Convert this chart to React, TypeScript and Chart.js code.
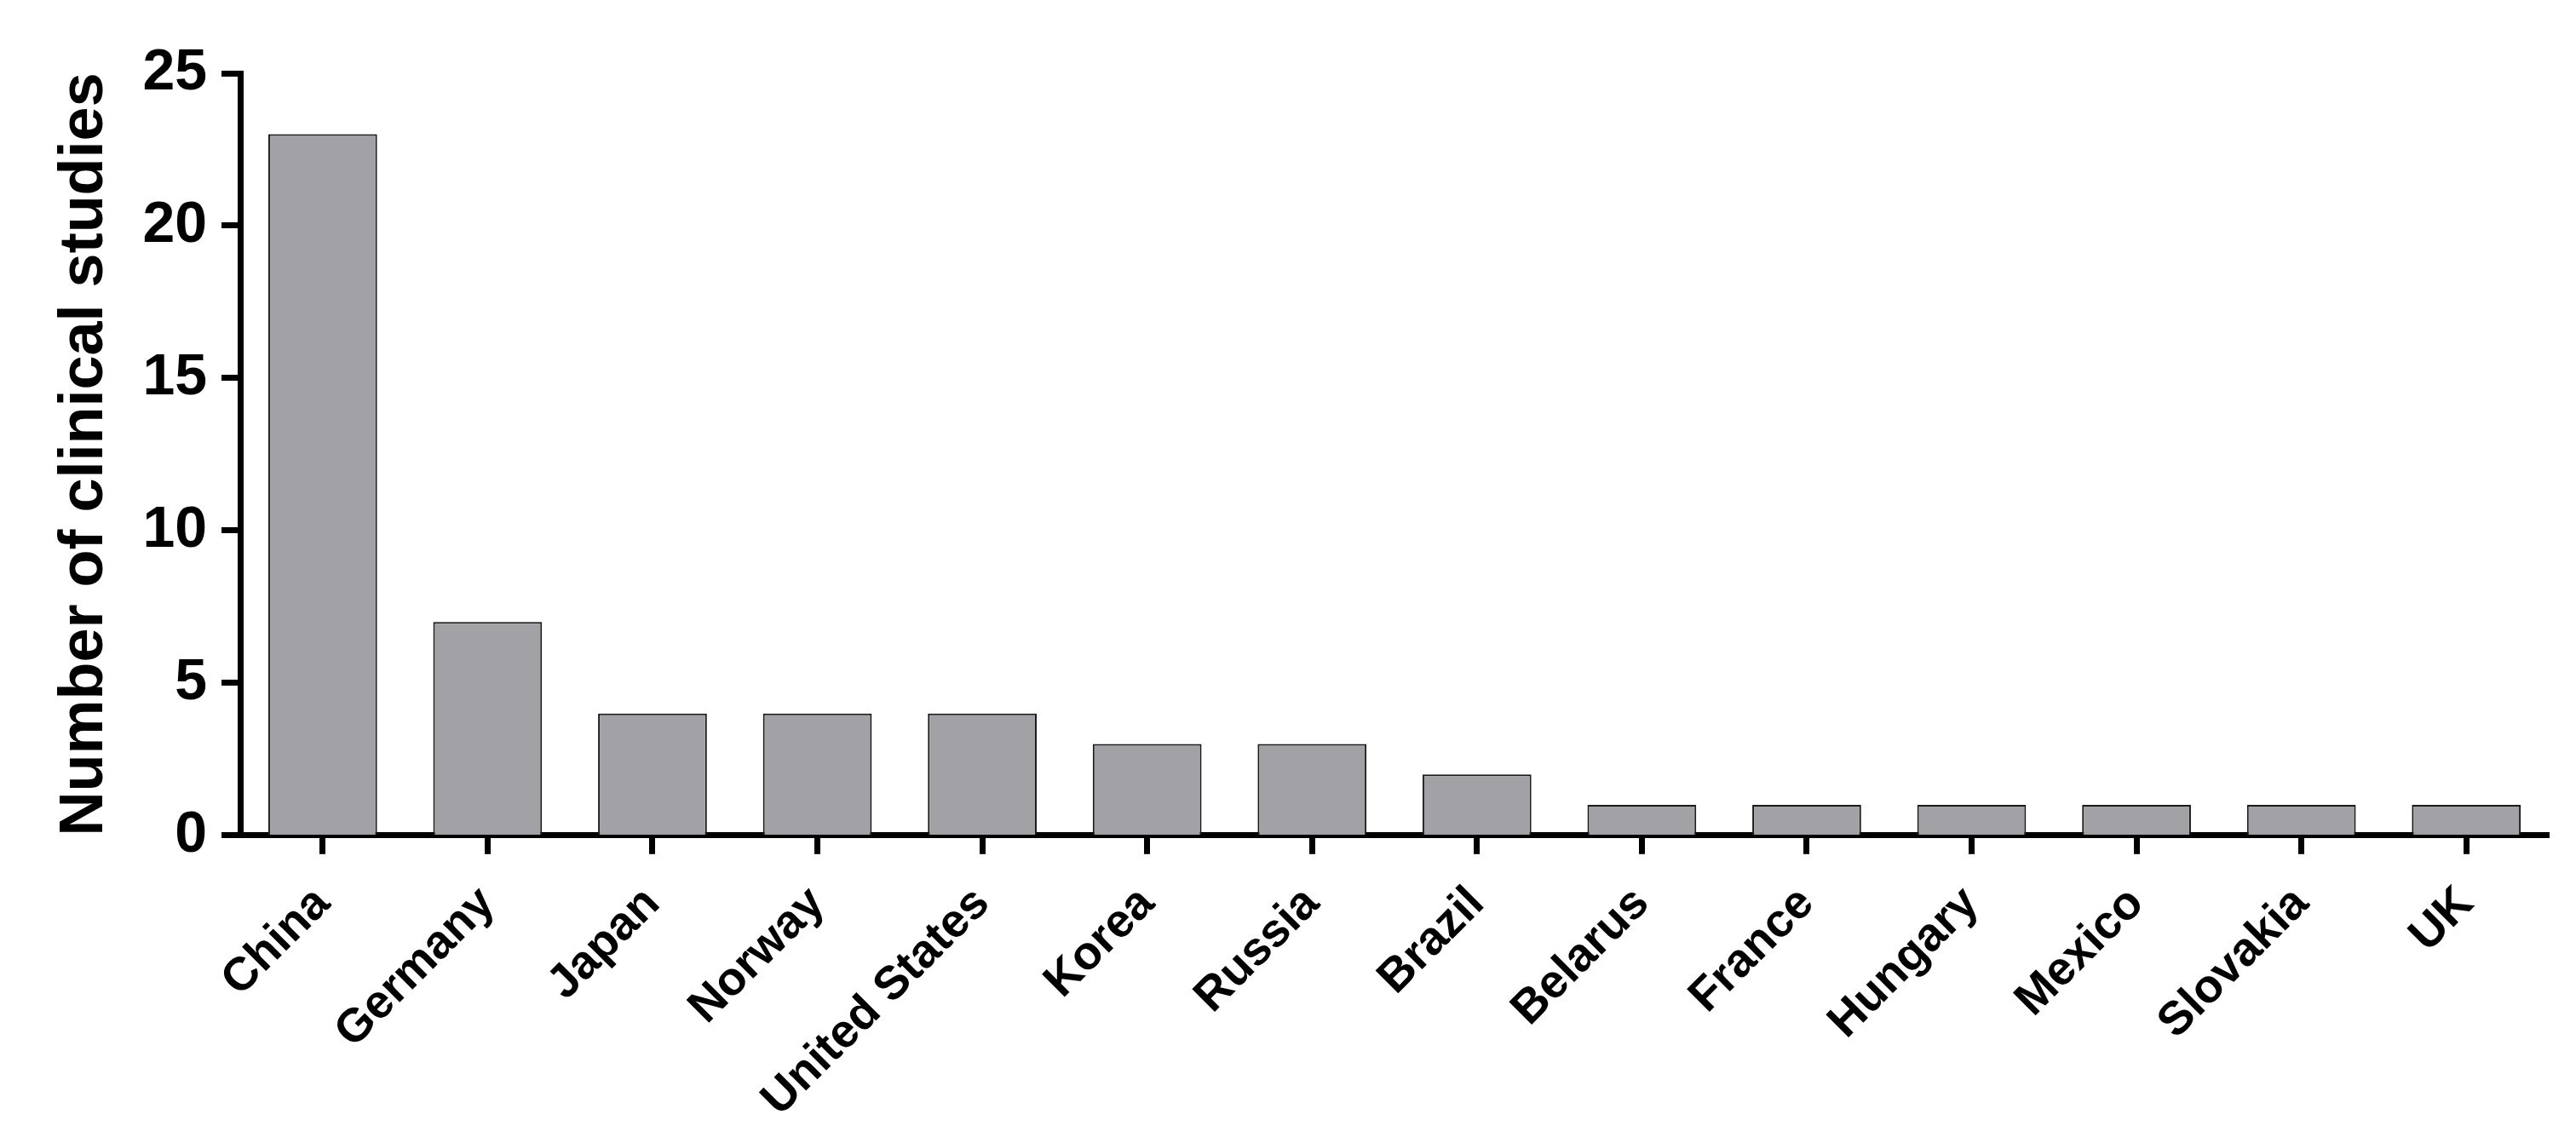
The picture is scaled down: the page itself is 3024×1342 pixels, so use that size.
import React, { useEffect, useRef } from "react";
import { Chart, registerables } from "chart.js";

Chart.register(...registerables);

const countries = [
  "China", "Germany", "Japan", "Norway", "United States", "Korea", "Russia",
  "Brazil", "Belarus", "France", "Hungary", "Mexico", "Slovakia", "UK",
];
const studies = [23, 7, 4, 4, 4, 3, 3, 2, 1, 1, 1, 1, 1, 1];
const yTicks = [0, 5, 10, 15, 20, 25];
const yTitle = "Number of clinical studies";

const FONT = "'Liberation Sans', Arial, Helvetica, sans-serif";

export default function App() {
  const ref = useRef<HTMLCanvasElement | null>(null);

  useEffect(() => {
    document.body.style.margin = "0";
    const canvas = ref.current;
    if (!canvas) return;
    const chart = new Chart(canvas, {
      type: "bar",
      data: {
        labels: countries,
        datasets: [
          {
            data: studies,
            backgroundColor: "#a2a2a6",
            borderColor: "#1a1a1a",
            borderWidth: 2,
            barPercentage: 0.66,
            categoryPercentage: 1,
          },
        ],
      },
      options: {
        responsive: false,
        animation: false,
        devicePixelRatio: 1,
        layout: { padding: { left: 50, top: 86, right: 32, bottom: -8 } },
        plugins: {
          legend: { display: false },
          tooltip: { enabled: false },
        },
        scales: {
          x: {
            offset: true,
            grid: {
              display: true,
              drawOnChartArea: false,
              drawTicks: true,
              tickLength: 22,
              tickWidth: 7,
              tickColor: "#000",
              offset: false,
            },
            border: { display: true, color: "#000", width: 7 },
            ticks: {
              color: "#000",
              font: { family: FONT, weight: "bold", size: 55 },
              maxRotation: 45,
              minRotation: 45,
              autoSkip: false,
              padding: 26,
            },
          },
          y: {
            min: yTicks[0],
            max: yTicks[yTicks.length - 1],
            afterBuildTicks: (scale: any) => {
              scale.ticks = yTicks.map((v) => ({ value: v }));
            },
            grid: {
              display: true,
              drawOnChartArea: false,
              drawTicks: true,
              tickLength: 22,
              tickWidth: 7,
              tickColor: "#000",
            },
            border: { display: true, color: "#000", width: 7 },
            ticks: {
              color: "#000",
              font: { family: FONT, weight: "bold", size: 68 },
              padding: 17,
            },
            title: {
              display: true,
              text: yTitle,
              color: "#000",
              font: { family: FONT, weight: "bold", size: 72 },
              padding: { top: 7, bottom: 7 },
            },
          },
        },
      },
    });
    return () => chart.destroy();
  }, []);

  return (
    <div style={{ width: 3024, height: 1342, background: "#fff" }}>
      <canvas ref={ref} width={3024} height={1342} />
    </div>
  );
}
